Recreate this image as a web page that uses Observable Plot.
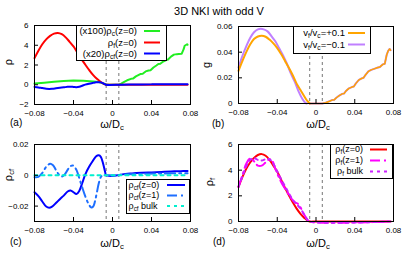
<!DOCTYPE html>
<html><head><meta charset="utf-8">
<script src="https://cdn.jsdelivr.net/npm/d3@7"></script>
<script src="https://cdn.jsdelivr.net/npm/@observablehq/plot@0.6"></script>
<style>
body{margin:0;background:#fff;font-family:"Liberation Sans",Arial,Helvetica,sans-serif}
#root{position:relative;width:407px;height:255px;overflow:hidden;background:#fff}
.pan{position:absolute}
.pan svg{max-width:none!important}
#ov{position:absolute;left:0;top:0}
</style></head><body><div id="root"></div>
<script>
const FONT = '"Liberation Sans",Arial,Helvetica,sans-serif';
// ---- data ----
const xTicks = [-0.08, -0.04, 0, 0.04, 0.08];
const gapEdges = [-0.0065, 0.0065];
const yTicksA = [-2, 0, 2, 4, 6];
const yTicksB = [0, 0.02, 0.04, 0.06];
const yTicksC = [-0.02, 0, 0.02];
const yTicksD = [0, 2, 4, 6];

// rho_f(z=0)  (panels a, d)
const rhoF_z0 = [[-0.080,2.7],[-0.076,3.45],[-0.072,4.1],[-0.068,4.6],[-0.064,4.95],[-0.060,5.18],[-0.056,5.25],[-0.052,5.12],[-0.048,4.8],[-0.044,4.35],[-0.040,3.88],[-0.036,3.25],[-0.032,2.62],[-0.028,2.05],[-0.024,1.5],[-0.020,1.0],[-0.016,0.6],[-0.012,0.28],[-0.009,0.08],[-0.0065,0],[0.0,0],[0.077,0]];
// (x100) rho_c(z=0)
const rhoC_z0 = [[-0.080,0.12],[-0.070,0.2],[-0.060,0.3],[-0.050,0.38],[-0.040,0.43],[-0.030,0.4],[-0.020,0.34],[-0.014,0.28],[-0.010,0.15],[-0.0065,0.02],[0.0,0],[0.0065,0],[0.009,0.12],[0.012,0.3],[0.015,0.45],[0.019,0.6],[0.021,0.62],[0.024,0.85],[0.027,1.0],[0.029,1.1],[0.031,1.12],[0.034,1.35],[0.037,1.45],[0.039,1.47],[0.042,1.75],[0.045,1.95],[0.047,2.1],[0.049,2.12],[0.052,2.35],[0.055,2.5],[0.057,2.55],[0.060,2.85],[0.063,3.05],[0.066,3.1],[0.068,3.12],[0.071,3.15],[0.073,3.6],[0.074,3.95],[0.0765,4.1],[0.077,4.05]];
// rho_cf(z=0)  (panel c; x20 in panel a)
const rhoCf_z0 = [[-0.080,-0.011],[-0.076,-0.0135],[-0.072,-0.017],[-0.068,-0.0203],[-0.065,-0.021],[-0.062,-0.0203],[-0.058,-0.018],[-0.054,-0.0155],[-0.050,-0.0132],[-0.046,-0.0105],[-0.043,-0.0098],[-0.040,-0.011],[-0.037,-0.0122],[-0.034,-0.01],[-0.031,-0.005],[-0.028,0.0005],[-0.024,0.0055],[-0.020,0.0095],[-0.017,0.0122],[-0.014,0.013],[-0.012,0.012],[-0.010,0.0085],[-0.0075,0.002],[-0.0065,0],[0.006,0],[0.010,0.0006],[0.020,0.0012],[0.030,0.0016],[0.040,0.0019],[0.050,0.0022],[0.060,0.0025],[0.070,0.0027],[0.077,0.0028]];
// rho_cf(z=1)
const rhoCf_z1 = [[-0.080,-0.0012],[-0.076,-0.001],[-0.072,0.0015],[-0.068,0.0055],[-0.064,0.0075],[-0.061,0.0065],[-0.058,0.0035],[-0.055,0.0005],[-0.052,-0.0008],[-0.049,0.0005],[-0.046,0.0035],[-0.043,0.006],[-0.040,0.0062],[-0.037,0.0035],[-0.034,-0.002],[-0.031,-0.008],[-0.028,-0.0135],[-0.025,-0.018],[-0.022,-0.0208],[-0.020,-0.0205],[-0.018,-0.017],[-0.016,-0.011],[-0.014,-0.005],[-0.012,-0.0012],[-0.010,0],[-0.0065,0],[0.006,0],[0.010,0.0004],[0.030,0.0009],[0.050,0.0012],[0.077,0.0014]];
// rho_cf bulk
const rhoCf_bulk = [[-0.080,0],[0.077,0]];
// g, v_f/v_c = +0.1 (negative-omega part)
const gPlus = [[-0.080,0.0255],[-0.076,0.033],[-0.072,0.040],[-0.068,0.046],[-0.064,0.0502],[-0.060,0.0522],[-0.056,0.0528],[-0.052,0.052],[-0.048,0.0498],[-0.044,0.0468],[-0.040,0.0432],[-0.036,0.0385],[-0.032,0.0332],[-0.028,0.0278],[-0.024,0.022],[-0.020,0.0155],[-0.016,0.0105],[-0.012,0.0055],[-0.009,0.002],[-0.0065,0]];
// g, v_f/v_c = -0.1 (negative-omega part)
const gMinus = [[-0.080,0.028],[-0.076,0.037],[-0.072,0.0445],[-0.068,0.051],[-0.064,0.0555],[-0.060,0.0578],[-0.057,0.0582],[-0.054,0.0578],[-0.050,0.0562],[-0.046,0.0525],[-0.042,0.0485],[-0.038,0.043],[-0.034,0.0375],[-0.030,0.031],[-0.026,0.0235],[-0.022,0.017],[-0.018,0.0095],[-0.014,0.0035],[-0.011,0.0005],[-0.0095,0]];
// g, positive-omega staircase (both curves)
const gStairs = [[-0.0065,0],[0.0065,0],[0.010,0.0006],[0.014,0.0018],[0.017,0.0028],[0.019,0.003],[0.021,0.0045],[0.024,0.0062],[0.027,0.0075],[0.029,0.0078],[0.031,0.0098],[0.034,0.0118],[0.037,0.0128],[0.039,0.0132],[0.041,0.0155],[0.044,0.0182],[0.047,0.0195],[0.049,0.02],[0.051,0.0222],[0.054,0.025],[0.057,0.0262],[0.060,0.027],[0.063,0.0278],[0.066,0.0285],[0.069,0.0305],[0.071,0.031],[0.073,0.038],[0.0745,0.041],[0.076,0.0425],[0.077,0.0415]];
// rho_f(z=1)
const rhoF_z1 = [[-0.080,2.7],[-0.076,3.6],[-0.072,4.5],[-0.068,4.9],[-0.064,4.7],[-0.060,4.35],[-0.056,4.35],[-0.052,4.6],[-0.048,4.85],[-0.045,4.7],[-0.042,4.1],[-0.038,3.4],[-0.034,2.8],[-0.030,2.35],[-0.026,1.85],[-0.022,1.5],[-0.019,1.4],[-0.016,1.1],[-0.012,0.5],[-0.009,0.15],[-0.007,0],[0.077,0]];
// rho_f bulk
const rhoF_bulk = [[-0.080,2.7],[-0.076,3.5],[-0.072,4.3],[-0.068,4.8],[-0.064,4.95],[-0.060,4.8],[-0.056,4.75],[-0.052,4.85],[-0.048,4.85],[-0.044,4.5],[-0.040,3.9],[-0.036,3.3],[-0.032,2.75],[-0.028,2.2],[-0.024,1.7],[-0.020,1.35],[-0.016,1.0],[-0.012,0.5],[-0.009,0.15],[-0.0065,0],[0.077,0]];

// ---- helpers ----
const fmtSigned = k => d => d === 0 ? "0" : (d < 0 ? "\u2212" : "") + Math.abs(d).toFixed(k);
const root = d3.select("#root");
const X = d => d[0], Y = d => d[1];

function panel({left, top, width, height, frame, yDomain, yTicks, yFmt, marks}) {
  const [fl, fr, ft, fb] = frame;
  const p = Plot.plot({
    width, height,
    marginLeft: fl - left, marginRight: left + width - fr,
    marginTop: ft - top, marginBottom: top + height - fb,
    x: {domain: [-0.08, 0.08]},
    y: {domain: yDomain},
    style: {background: "transparent", fontFamily: FONT, fontSize: "8px", overflow: "visible", color: "black"},
    marks: [
      Plot.ruleX(gapEdges, {x: d => d, stroke: "#666", strokeDasharray: "3,3", strokeWidth: 0.9}),
      ...marks,
      Plot.frame({stroke: "black", strokeWidth: 1}),
      Plot.axisX(xTicks, {tickSize: 0, tickPadding: 6, label: null, tickFormat: fmtSigned(2), fontSize: 8}),
      Plot.axisY(yTicks, {tickSize: 0, tickPadding: 6, label: null, tickFormat: yFmt, fontSize: 8}),
      Plot.tickX(xTicks, {x: d => d, insetTop: (fb - ft) - 4, stroke: "black"}),
      Plot.tickY(yTicks, {y: d => d, insetRight: (fr - fl) - 4, stroke: "black"})
    ]
  });
  root.append("div").attr("class", "pan")
    .style("left", left + "px").style("top", top + "px")
    .style("width", width + "px").style("height", height + "px")
    .node().appendChild(p);
}

const L = (data, opts) => Plot.line(data, {x: X, y: Y, strokeWidth: 2, ...opts});

// (a)
panel({left: 0, top: 14, width: 204, height: 122, frame: [34, 190, 25, 104],
  yDomain: [-2, 6], yTicks: yTicksA, yFmt: fmtSigned(0),
  marks: [
    L(rhoC_z0, {stroke: "#22ee22"}),
    L(rhoF_z0, {stroke: "#ff0000", curve: "catmull-rom"}),
    Plot.line(rhoCf_z0, {x: X, y: d => d[1] * 20, stroke: "#0000ff", strokeWidth: 2, curve: "catmull-rom"})
  ]});
// (b)
panel({left: 204, top: 14, width: 203, height: 122, frame: [238, 393, 26, 103],
  yDomain: [0, 0.06], yTicks: yTicksB, yFmt: d => d === 0 ? "0" : d.toFixed(2),
  marks: [
    L(gMinus, {stroke: "#c080ff", curve: "catmull-rom"}),
    L(gStairs, {stroke: "#c080ff"}),
    L(gPlus, {stroke: "#ffa500", curve: "catmull-rom"}),
    L(gStairs, {stroke: "#ffa500", strokeWidth: 1.5})
  ]});
// (c)
panel({left: 0, top: 136, width: 204, height: 119, frame: [34, 190, 144, 221],
  yDomain: [-0.03, 0.02], yTicks: yTicksC, yFmt: fmtSigned(2),
  marks: [
    L(rhoCf_z0, {stroke: "#0000ff", curve: "catmull-rom"}),
    L(rhoCf_z1, {stroke: "#1e6fff", strokeDasharray: "10,4,2,4", curve: "catmull-rom"}),
    L(rhoCf_bulk, {stroke: "#00f0d0", strokeDasharray: "3,4"})
  ]});
// (d)
panel({left: 204, top: 136, width: 203, height: 119, frame: [238, 393, 144, 221],
  yDomain: [0, 6], yTicks: yTicksD, yFmt: fmtSigned(0),
  marks: [
    L(rhoF_z0, {stroke: "#ff0000", curve: "catmull-rom"}),
    L(rhoF_z1, {stroke: "#ff00ff", strokeDasharray: "10,4,2,4", curve: "catmull-rom"}),
    L(rhoF_bulk, {stroke: "#cc22ff", strokeDasharray: "3,4", curve: "catmull-rom"})
  ]});

// ---- overlay text: title, axis labels, legends ----
const ov = root.append("svg").attr("id", "ov").attr("width", 407).attr("height", 255)
  .style("font-family", FONT);

// parts: array of [text, isSub]
function rich(g, x, y, parts, size, anchor, extra) {
  const t = g.append("text").attr("x", x).attr("y", y).attr("font-size", size)
    .attr("text-anchor", anchor || "start").attr("fill", "black");
  if (extra) extra(t);
  let shifted = false;
  const off = size * 0.22;
  for (const [s, sub] of parts) {
    const ts = t.append("tspan").text(s);
    if (sub && !shifted) { ts.attr("dy", off).attr("font-size", size * 0.7); shifted = true; }
    else if (sub) { ts.attr("font-size", size * 0.7); }
    else if (!sub && shifted) { ts.attr("dy", -off); shifted = false; }
  }
  return t;
}

ov.append("text").attr("x", 219).attr("y", 15).attr("font-size", 11).attr("text-anchor", "middle").text("3D NKI with odd V");

const omegaLabel = [["\u03c9/D", false], ["c", true]];
rich(ov, 112, 128, omegaLabel, 11, "middle");
rich(ov, 318, 128, omegaLabel, 11, "middle");
rich(ov, 112, 247, omegaLabel, 11, "middle");
rich(ov, 318, 247, omegaLabel, 11, "middle");

const panLab = [["(a)", 10, 126], ["(b)", 212, 127], ["(c)", 10, 245], ["(d)", 213, 245]];
for (const [s, x, y] of panLab) ov.append("text").attr("x", x).attr("y", y).attr("font-size", 10).text(s);

function yLabel(cx, cy, parts) {
  rich(ov, 0, 0, parts, 11, "middle", t => t.attr("transform", `translate(${cx},${cy}) rotate(-90)`).attr("dy", "0.35em"));
}
yLabel(8, 62, [["\u03c1", false]]);
yLabel(206, 65, [["g", false]]);
yLabel(8, 175, [["\u03c1", false], ["cf", true]]);
yLabel(209, 182, [["\u03c1", false], ["f", true]]);

function legend(box, rows, textX, anchor, lx0, lx1, fs) {
  const [bx0, bx1, by0, by1] = box;
  ov.append("rect").attr("x", bx0 + 0.5).attr("y", by0 + 0.5).attr("width", bx1 - bx0).attr("height", by1 - by0)
    .attr("fill", "white").attr("stroke", "black").attr("stroke-width", 1);
  for (const r of rows) {
    rich(ov, textX, r.y + fs * 0.33, r.parts, fs, anchor);
    ov.append("line").attr("x1", lx0).attr("x2", lx1).attr("y1", r.y).attr("y2", r.y)
      .attr("stroke", r.color).attr("stroke-width", 2).attr("stroke-dasharray", r.dash || null);
  }
}
legend([76, 166, 25, 60], [
  {y: 31, color: "#22ee22", parts: [["(x100)\u03c1", false], ["c", true], ["(z=0)", false]]},
  {y: 42.5, color: "#ff0000", parts: [["\u03c1", false], ["f", true], ["(z=0)", false]]},
  {y: 53.5, color: "#0000ff", parts: [["(x20)\u03c1", false], ["cf", true], ["(z=0)", false]]}
], 137, "end", 144, 160, 9.5);
legend([293, 370, 26, 53], [
  {y: 33, color: "#ffa500", parts: [["v", false], ["f", true], ["/v", false], ["c", true], ["=+0.1", false]]},
  {y: 44.5, color: "#c080ff", parts: [["v", false], ["f", true], ["/v", false], ["c", true], ["=\u22120.1", false]]}
], 345, "end", 348, 365, 9.5);
legend([126, 189, 179, 213], [
  {y: 185, color: "#0000ff", parts: [["\u03c1", false], ["cf", true], ["(z=0)", false]]},
  {y: 195.5, color: "#1e6fff", dash: "10,4,2,4", parts: [["\u03c1", false], ["cf", true], ["(z=1)", false]]},
  {y: 206, color: "#00f0d0", dash: "3,4", parts: [["\u03c1", false], ["cf", true], [" bulk", false]]}
], 128.5, "start", 167, 185, 9);
legend([330, 392, 144, 178], [
  {y: 149.5, color: "#ff0000", parts: [["\u03c1", false], ["f", true], ["(z=0)", false]]},
  {y: 160.5, color: "#ff00ff", dash: "10,4,2,4", parts: [["\u03c1", false], ["f", true], ["(z=1)", false]]},
  {y: 171.5, color: "#cc22ff", dash: "3,4", parts: [["\u03c1", false], ["f", true], [" bulk", false]]}
], 363, "end", 370, 387, 9);
</script></body></html>
